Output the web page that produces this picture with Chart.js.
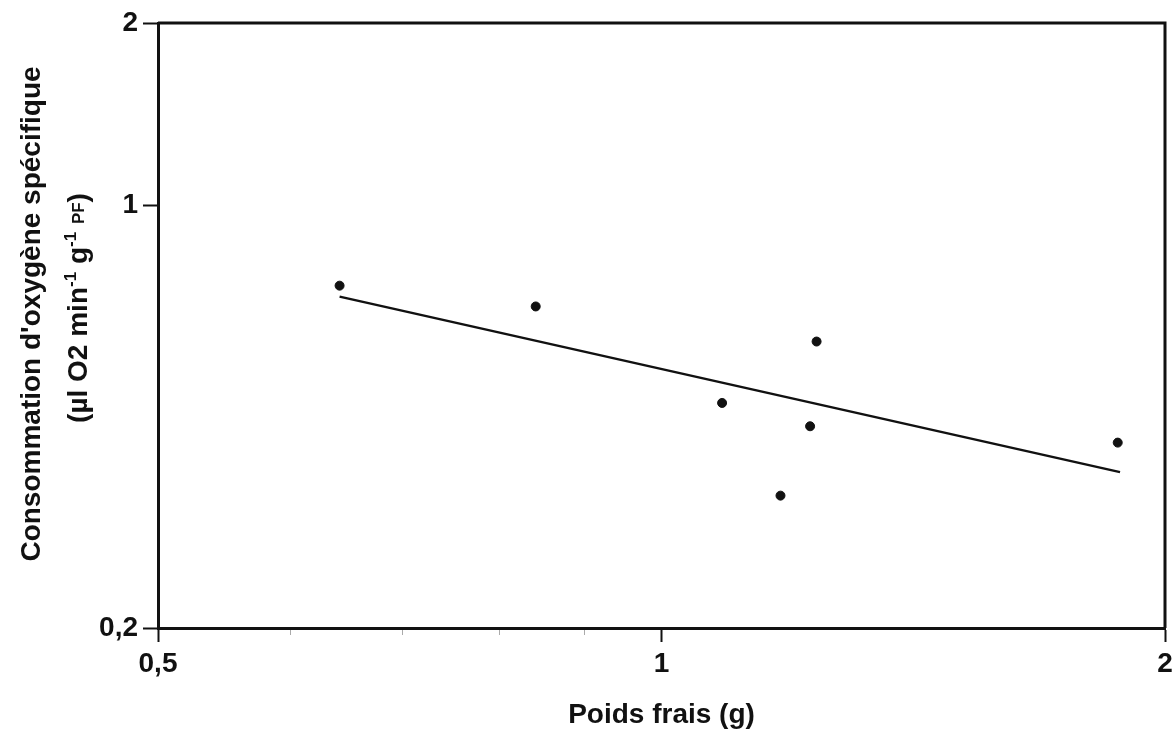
<!DOCTYPE html>
<html>
<head>
<meta charset="utf-8">
<script src="https://cdn.jsdelivr.net/npm/chart.js@4.4.0/dist/chart.umd.min.js"></script>
<style>
  html, body { margin: 0; padding: 0; background: #fff; }
  canvas { display: block; }
</style>
</head>
<body>
<canvas id="chart" width="1174" height="738"></canvas>
<script>
// Poids frais (g) vs consommation d'O2 spécifique, échelles log-log
const poidsFrais = [0.642, 0.841, 1.087, 1.238, 1.227, 1.178, 1.874];
const consoO2 = [0.736, 0.680, 0.471, 0.595, 0.431, 0.331, 0.405];

// droite d'ajustement (extrémités)
const regX = [0.642, 1.880];
const regY = [0.706, 0.362];

const xTicks = [0.5, 0.6, 0.7, 0.8, 0.9, 1, 2];
const xMajor = [0.5, 1, 2];
const yTicks = [0.2, 1, 2];

const FONT = '"Liberation Sans", Arial, Helvetica, sans-serif';
const INK = '#111';

const fmt = v => String(v).replace('.', ',');
const isMajor = v => xMajor.includes(v);

// cadre haut + droite
const framePlugin = {
    id: 'frame',
    afterDraw(chart) {
        const { ctx, chartArea: a } = chart;
        ctx.save();
        ctx.strokeStyle = INK;
        ctx.lineWidth = 3;
        ctx.beginPath();
        ctx.moveTo(a.left, a.top);
        ctx.lineTo(a.right, a.top);
        ctx.lineTo(a.right, a.bottom);
        ctx.stroke();
        ctx.restore();
    }
};

// titre de l'axe Y sur deux lignes, avec exposants
const yTitlePlugin = {
    id: 'yTitle',
    afterDraw(chart) {
        const ctx = chart.ctx;
        ctx.save();
        ctx.fillStyle = INK;

        ctx.save();
        ctx.translate(40, 314);
        ctx.rotate(-Math.PI / 2);
        ctx.font = 'bold 28px ' + FONT;
        ctx.textAlign = 'center';
        ctx.textBaseline = 'alphabetic';
        ctx.fillText("Consommation d'oxygène spécifique", 0, 0);
        ctx.restore();

        const parts = [
            { t: '(µl O2 min', size: 28, dy: 0 },
            { t: '-1', size: 17, dy: -11 },
            { t: ' g', size: 28, dy: 0 },
            { t: '-1', size: 17, dy: -11 },
            { t: ' ', size: 28, dy: 0 },
            { t: 'PF', size: 17, dy: -3 },
            { t: ')', size: 28, dy: 0 }
        ];
        ctx.save();
        ctx.translate(87, 308);
        ctx.rotate(-Math.PI / 2);
        ctx.textAlign = 'left';
        ctx.textBaseline = 'alphabetic';
        let total = 0;
        parts.forEach(p => {
            ctx.font = 'bold ' + p.size + 'px ' + FONT;
            p.w = ctx.measureText(p.t).width;
            total += p.w;
        });
        let x = -total / 2;
        parts.forEach(p => {
            ctx.font = 'bold ' + p.size + 'px ' + FONT;
            ctx.fillText(p.t, x, p.dy);
            x += p.w;
        });
        ctx.restore();

        ctx.restore();
    }
};

new Chart(document.getElementById('chart'), {
    type: 'scatter',
    data: {
        datasets: [
            {
                label: 'mesures',
                data: poidsFrais.map((x, i) => ({ x, y: consoO2[i] })),
                backgroundColor: INK,
                borderColor: INK,
                pointRadius: 4.5,
                pointHoverRadius: 4.5
            },
            {
                label: 'ajustement',
                type: 'line',
                data: regX.map((x, i) => ({ x, y: regY[i] })),
                borderColor: INK,
                borderWidth: 2.5,
                pointRadius: 0,
                fill: false
            }
        ]
    },
    options: {
        responsive: false,
        animation: false,
        devicePixelRatio: 1,
        layout: { padding: { top: 23, right: 9, bottom: 0, left: 0 } },
        plugins: {
            legend: { display: false },
            tooltip: { enabled: false }
        },
        scales: {
            x: {
                type: 'logarithmic',
                min: 0.5,
                max: 2,
                afterBuildTicks: s => { s.ticks = xTicks.map(value => ({ value })); },
                afterFit: s => {
                    s.height = 110;
                    s.paddingRight = 0;
                    s.paddingLeft = 0;
                },
                border: { display: true, color: INK, width: 3 },
                grid: {
                    drawOnChartArea: false,
                    drawTicks: true,
                    tickLength: 14,
                    tickColor: c => isMajor(c.tick && c.tick.value) ? INK : '#aaa',
                    tickWidth: c => isMajor(c.tick && c.tick.value) ? 2 : 1,
                    tickBorderDash: c => isMajor(c.tick && c.tick.value) ? [] : [5, 40]
                },
                ticks: {
                    autoSkip: false,
                    maxRotation: 0,
                    padding: 5,
                    color: INK,
                    font: { family: FONT, size: 28, weight: 'bold' },
                    callback: v => isMajor(v) ? fmt(v) : ''
                },
                title: {
                    display: true,
                    text: 'Poids frais (g)',
                    color: INK,
                    font: { family: FONT, size: 28, weight: 'bold' },
                    padding: { top: 0, bottom: 6 }
                }
            },
            y: {
                type: 'logarithmic',
                min: 0.2,
                max: 2,
                afterBuildTicks: s => { s.ticks = yTicks.map(value => ({ value })); },
                afterFit: s => {
                    s.width = 158;
                    s.paddingTop = 0;
                    s.paddingBottom = 0;
                },
                border: { display: true, color: INK, width: 3 },
                grid: {
                    drawOnChartArea: false,
                    drawTicks: true,
                    tickLength: 15,
                    tickColor: INK,
                    tickWidth: 2
                },
                ticks: {
                    autoSkip: false,
                    padding: 5,
                    color: INK,
                    font: { family: FONT, size: 28, weight: 'bold' },
                    callback: v => yTicks.includes(v) ? fmt(v) : ''
                }
            }
        }
    },
    plugins: [framePlugin, yTitlePlugin]
});
</script>
</body>
</html>
